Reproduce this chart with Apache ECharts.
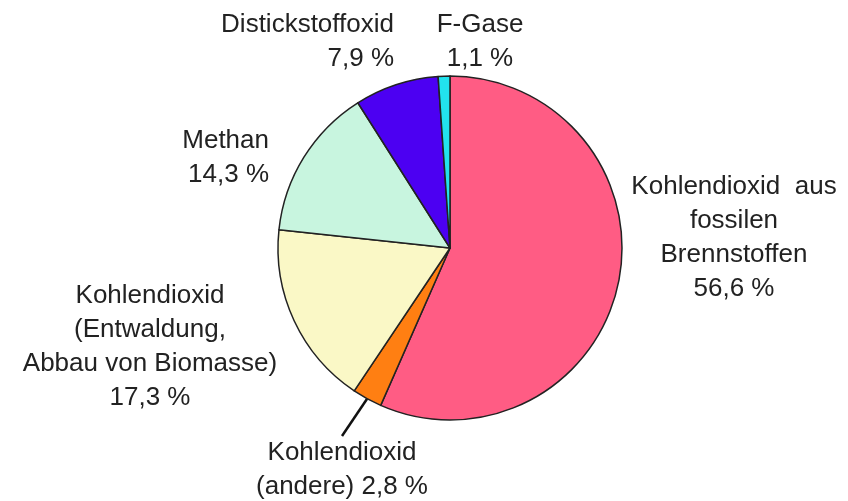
<!DOCTYPE html>
<html>
<head>
<meta charset="utf-8">
<script src="https://cdn.jsdelivr.net/npm/echarts@6/dist/echarts.min.js"></script>
<style>
  html, body { margin: 0; padding: 0; background: #fff; }
  #chart { width: 848px; height: 501px; }
</style>
</head>
<body>
<div id="chart"></div>
<script>
// Anteile der Treibhausgase (%)
var names = [
  'Kohlendioxid  aus\nfossilen\nBrennstoffen',
  'Kohlendioxid\n(andere)',
  'Kohlendioxid\n(Entwaldung,\nAbbau von Biomasse)',
  'Methan',
  'Distickstoffoxid',
  'F-Gase'
];
var values = [56.6, 2.8, 17.3, 14.3, 7.9, 1.1];
var colors = ['#ff5c84', '#ff7f12', '#faf8c6', '#c8f5df', '#4c00f2', '#22e2ee'];

// where each label sits (text anchor) and how it is aligned
var labelPos = [
  { x: 734, y: 238, align: 'center' },
  { x: 342, y: 470, align: 'center' },
  { x: 150, y: 347, align: 'center' },
  { x: 269, y: 158, align: 'right' },
  { x: 394, y: 42, align: 'right' },
  { x: 480, y: 42, align: 'center' }
];

function fmt(v) {
  return v.toFixed(1).replace('.', ',') + ' %';
}

var chart = echarts.init(document.getElementById('chart'));

var data = values.map(function (v, i) {
  return {
    name: names[i],
    value: v,
    itemStyle: { color: colors[i] },
    labelLine: { show: i === 1 }
  };
});

chart.setOption({
  animation: false,
  series: [{
    type: 'pie',
    center: [450, 248],
    radius: 172,
    startAngle: 90,
    clockwise: true,
    avoidLabelOverlap: false,
    itemStyle: { borderColor: '#222', borderWidth: 1.5 },
    label: {
      show: true,
      position: 'outside',
      color: '#222',
      fontFamily: 'Liberation Sans, Arial, sans-serif',
      fontSize: 26,
      lineHeight: 34,
      formatter: function (p) {
        var sep = p.dataIndex === 1 ? ' ' : '\n';
        return p.name + sep + fmt(p.value);
      }
    },
    labelLine: {
      length: 12,
      length2: 0,
      lineStyle: { color: '#111', width: 2.5 }
    },
    labelLayout: function (p) {
      var l = labelPos[p.dataIndex];
      return { x: l.x, y: l.y, align: l.align, verticalAlign: 'middle' };
    },
    emphasis: { disabled: true },
    data: data
  }]
});
</script>
</body>
</html>
